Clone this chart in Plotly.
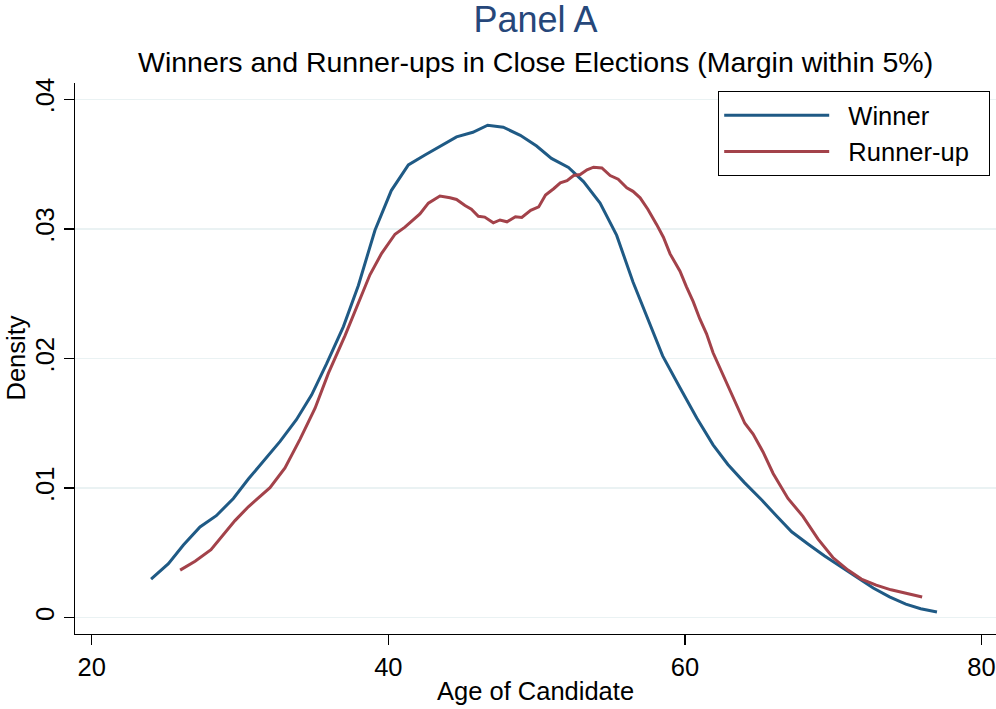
import plotly.graph_objects as go

# ---- data ----
winner_age = [24.0, 25.17, 26.18, 27.3, 28.4, 29.55, 30.56, 31.7, 32.7, 33.8,
              34.83, 35.84, 36.97, 37.98, 39.1, 40.2, 41.35, 42.47, 43.5, 44.6,
              45.7, 46.7, 47.75, 48.9, 50.0, 51.0, 52.15, 53.16, 54.28, 55.4,
              56.5, 57.5, 58.5, 59.66, 60.8, 61.9, 62.9, 64.0, 65.2, 66.2,
              67.2, 68.3, 69.4, 70.5, 71.7, 72.7, 73.8, 74.9, 75.9, 77.0]
winner_density = [.00298, .00417, .0056, .0070, .00787, .0092, .0107, .01224, .0136, .01528,
                  .0172, .0196, .02246, .02564, .0299, .03296, .03494, .0357, .0364, .0371,
                  .03746, .0380, .03785, .03722, .0364, .03544, .03475, .03365, .0320, .0295,
                  .0259, .0230, .0202, .01776, .01541, .01334, .01182, .01044, .00906, .00782,
                  .00663, .00569, .00478, .00395, .00304, .00229, .0016, .00105, .00069, .00044]

runner_age = [25.96, 26.97, 28.04, 28.88, 29.66, 30.56, 31.46, 32.02, 33.03, 34.04,
              35.06, 35.96, 37.08, 37.98, 38.76, 39.55, 40.45, 41.12, 41.69, 42.13,
              42.7, 43.48, 44.16, 44.6, 45.17, 45.6, 46.07, 46.5, 47.08, 47.53,
              48.0, 48.57, 49.0, 49.6, 50.14, 50.6, 51.15, 51.6, 52.05, 52.5,
              52.94, 53.4, 53.84, 54.4, 54.96, 55.5, 56.08, 56.5, 56.98, 57.5,
              58.1, 58.55, 59.0, 59.67, 60.1, 60.56, 61.0, 61.46, 61.9, 62.36,
              62.92, 63.48, 64.04, 64.6, 65.27, 65.95, 66.95, 67.96, 68.97, 69.98,
              71.0, 71.9, 72.9, 73.9, 74.9, 76.0]
runner_density = [.00367, .00436, .00525, .00644, .00749, .00856, .00942, .01003, .01155, .01376,
                  .01616, .01887, .02177, .02425, .02646, .02812, .02959, .03014, .03075, .03116,
                  .03199, .03254, .0324, .03227, .0318, .03152, .03097, .03091, .03047, .03069,
                  .03055, .03094, .03088, .03144, .0317, .03262, .0331, .03356, .03373, .03412,
                  .0342, .03456, .03476, .0347, .03412, .03384, .03318, .0329, .0324, .03152,
                  .03033, .02936, .02807, .02674, .02555, .02439, .02307, .0219, .02044, .01928,
                  .01782, .01638, .015, .01417, .01279, .01113, .0092, .00782, .00608, .00464,
                  .00367, .00298, .00251, .00215, .00188, .0016]

x_ticks = [20, 40, 60, 80]
x_ticklabels = ["20", "40", "60", "80"]
y_ticks = [0, 0.01, 0.02, 0.03, 0.04]
y_ticklabels = ["0", ".01", ".02", ".03", ".04"]

title_text = "Panel A"
subtitle_text = "Winners and Runner-ups in Close Elections (Margin within 5%)"
x_title = "Age of Candidate"
y_title = "Density"
series_names = ["Winner", "Runner-up"]

FONT = "Liberation Sans, Arial, Helvetica, sans-serif"
W, H = 996, 709
L, R, T, B = 75, 0, 83, 75
PW, PH = W - L - R, H - T - B
NB = "\u00a0"

fig = go.Figure()
fig.add_trace(go.Scatter(x=winner_age, y=winner_density, mode="lines",
                         name=NB * 2 + series_names[0],
                         line=dict(color="#1f5a85", width=3)))
fig.add_trace(go.Scatter(x=runner_age, y=runner_density, mode="lines",
                         name=NB * 2 + series_names[1] + NB * 2,
                         line=dict(color="#a3424a", width=3)))

fig.update_layout(
    width=W, height=H,
    margin=dict(l=L, r=R, t=T, b=B, pad=0, autoexpand=False),
    paper_bgcolor="white", plot_bgcolor="white",
    font=dict(family=FONT, size=25.5, color="black"),
    title=dict(text=title_text, x=(L + PW / 2) / W, xanchor="center",
               yref="container", y=1 - 19 / H, yanchor="middle",
               font=dict(size=36, color="#26477a", family=FONT)),
    showlegend=True,
    legend=dict(x=(718 - L) / PW, y=1 - (91 - T) / PH,
                xanchor="left", yanchor="top",
                bordercolor="black", borderwidth=1.2, bgcolor="white",
                font=dict(size=25.5, family=FONT), itemwidth=105),
    xaxis=dict(range=[18.87, 80.98], tickvals=x_ticks, ticktext=x_ticklabels,
               automargin=False,
               showgrid=False, zeroline=False, showline=True, linecolor="black", linewidth=1.3,
               ticks="outside", ticklen=10, tickwidth=1.3, tickcolor="black",
               tickfont=dict(size=25.5)),
    yaxis=dict(range=[-0.00126, 0.04126], tickvals=y_ticks, ticktext=y_ticklabels,
               automargin=False,
               showgrid=True, gridcolor="#eaf2f3", gridwidth=1.3,
               zeroline=False, showline=True, linecolor="black", linewidth=1.3,
               ticks="outside", ticklen=10, tickwidth=1.3, tickcolor="black",
               tickangle=-90, tickfont=dict(size=25.5)),
    annotations=[
        dict(text=subtitle_text, xref="paper", yref="paper",
             x=0.5, y=1 + (T - 62) / PH, xanchor="center", yanchor="middle",
             showarrow=False, font=dict(size=28.5, family=FONT, color="black")),
        dict(text=x_title, xref="paper", yref="paper",
             x=0.5, y=(H - B - 691) / PH, xanchor="center", yanchor="middle",
             showarrow=False, font=dict(size=25.5, family=FONT, color="black")),
        dict(text=y_title, xref="paper", yref="paper", textangle=-90,
             x=(15 - L) / PW, y=0.5, xanchor="center", yanchor="middle",
             showarrow=False, font=dict(size=25.5, family=FONT, color="black")),
    ],
)

fig.write_html("out.html",
               config={"displayModeBar": False, "staticPlot": True},
               post_script="document.body.style.margin='0';document.body.style.overflow='hidden';")
